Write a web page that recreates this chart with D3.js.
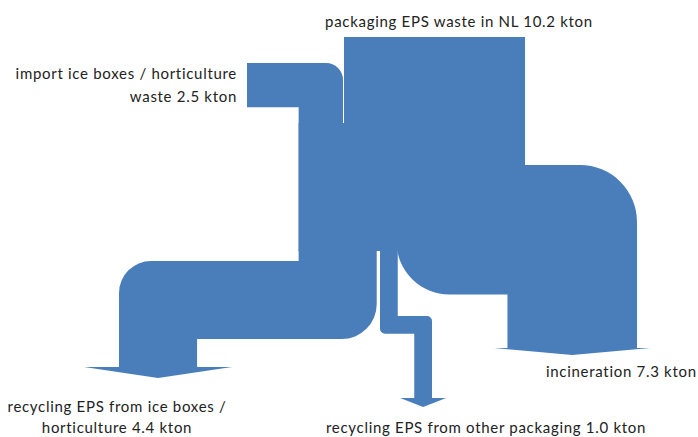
<!DOCTYPE html>
<html>
<head>
<meta charset="utf-8">
<script src="https://cdn.jsdelivr.net/npm/d3@7"></script>
<style>
  html, body { margin: 0; padding: 0; background: #ffffff; }
  svg { display: block; }
  text { font-family: Lato, "Open Sans", sans-serif; font-size: 15px; letter-spacing: 0.7px; fill: #222; }
</style>
</head>
<body>
<svg id="chart" width="698" height="437"></svg>
<script>
// ---- data (kton) ----
const inflowNames = ["packaging EPS waste in NL", "import ice boxes / horticulture waste"];
const inflowValues = [10.2, 2.5];
const outflowNames = ["recycling EPS from ice boxes / horticulture", "recycling EPS from other packaging", "incineration"];
const outflowValues = [4.4, 1.0, 7.3];
const unit = "kton";

const svg = d3.select("#chart");
const color = "#4a7ebb";

// width scale: kton -> px
const w = d3.scaleLinear().domain([0, inflowValues[0]]).range([0, 181]);

const fmt = d3.format(".1f");

// ---- layout anchors ----
const mainX = 344, mainTop = 37, splitY = 251;
const mainW = w(inflowValues[0]);
const impW = w(inflowValues[1]);
const impX = mainX - 1 - impW;       // vertical import band left
const mergeY = 123;

const g = svg.append("g").attr("fill", color);

// main packaging inflow
g.append("rect").attr("x", mainX).attr("y", mainTop).attr("width", mainW).attr("height", splitY - mainTop);

// import inflow
{
  const p = d3.path();
  const top = 63, left = 247, r = 17;
  const right = mainX - 1;
  p.moveTo(left, top);
  p.lineTo(right - r, top);
  p.arcTo(right, top, right, top + r, r);
  p.lineTo(right, splitY);
  p.lineTo(impX, splitY);
  p.lineTo(impX, top + impW);
  p.lineTo(left, top + impW);
  p.closePath();
  g.append("path").attr("d", p.toString());
}
// merged body
g.append("rect").attr("x", impX).attr("y", mergeY).attr("width", mainX + mainW - impX).attr("height", splitY - mergeY);

// outflow 1: recycling ice boxes (left)
{
  const bw = w(outflowValues[0]);
  const x0 = impX, x1 = impX + bw;       // vertical part
  const hTop = 261, hBot = hTop + bw;    // horizontal band
  const vL = 119, vR = vL + bw;          // downward band
  const base = 367, tip = 378, wing = 74;
  const cx = (vL + vR) / 2;
  const p = d3.path();
  p.moveTo(x1, splitY - 1);
  p.lineTo(x1, hBot - 35);
  p.arcTo(x1, hBot, x1 - 35, hBot, 35);
  p.lineTo(vR, hBot);
  p.lineTo(vR, base);
  p.lineTo(cx + wing, base);
  p.lineTo(cx, tip);
  p.lineTo(cx - wing, base);
  p.lineTo(vL, base);
  p.lineTo(vL, hTop + 32);
  p.arcTo(vL, hTop, vL + 32, hTop, 32);
  p.lineTo(x0, hTop);
  p.lineTo(x0, splitY - 1);
  p.closePath();
  g.append("path").attr("d", p.toString());
}

// outflow 2: recycling other packaging (middle)
{
  const bw = w(outflowValues[1]);
  const x0 = 380, x1 = x0 + bw;
  const hTop = 316, hBot = hTop + bw;
  const vR = 432, vL = vR - bw;
  const base = 398, tip = 407, wing = 23;
  const cx = (vL + vR) / 2;
  const r = 5;
  const p = d3.path();
  p.moveTo(x0, splitY - 1);
  p.lineTo(x0, hBot - r);
  p.arcTo(x0, hBot, x0 + r, hBot, r);
  p.lineTo(vL, hBot);
  p.lineTo(vL, base);
  p.lineTo(cx - wing, base);
  p.lineTo(cx, tip);
  p.lineTo(cx + wing, base);
  p.lineTo(vR, base);
  p.lineTo(vR, hTop + r);
  p.arcTo(vR, hTop, vR - r, hTop, r);
  p.lineTo(x1, hTop);
  p.lineTo(x1, splitY - 1);
  p.closePath();
  g.append("path").attr("d", p.toString());
}

// outflow 3: incineration (right)
{
  const bw = w(outflowValues[2]);
  const right = mainX + mainW;           // 525
  const x0 = right - bw;                 // left edge inside stream
  const hTop = 165, hBot = hTop + bw;
  const vR = 637, vL = vR - bw;
  const base = 348, tip = 355, wing = 78;
  const cx = (vL + vR) / 2;
  const r1 = 53, r2 = 57;
  const p = d3.path();
  p.moveTo(x0 + 1, hBot - r1);
  p.arcTo(x0 + 1, hBot, x0 + 1 + r1, hBot, r1);
  p.lineTo(vL, hBot);
  p.lineTo(vL, base);
  p.lineTo(cx - wing, base);
  p.lineTo(cx, tip);
  p.lineTo(cx + wing, base);
  p.lineTo(vR, base);
  p.lineTo(vR, hTop + r2);
  p.arcTo(vR, hTop, vR - r2, hTop, r2);
  p.lineTo(right, hTop);
  p.lineTo(right, hBot - r1);
  p.closePath();
  g.append("path").attr("d", p.toString());
}

// ---- labels ----
const labels = svg.append("g");
labels.append("text").attr("x", 459).attr("y", 27).attr("text-anchor", "middle")
  .text(`${inflowNames[0]} ${fmt(inflowValues[0])} ${unit}`);
labels.append("text").attr("x", 237).attr("y", 79).attr("text-anchor", "end")
  .text("import ice boxes / horticulture");
labels.append("text").attr("x", 237).attr("y", 102).attr("text-anchor", "end")
  .text(`waste ${fmt(inflowValues[1])} ${unit}`);
labels.append("text").attr("x", 117).attr("y", 412).attr("text-anchor", "middle")
  .text("recycling EPS from ice boxes /");
labels.append("text").attr("x", 117).attr("y", 433).attr("text-anchor", "middle")
  .text(`horticulture ${fmt(outflowValues[0])} ${unit}`);
labels.append("text").attr("x", 486).attr("y", 433).attr("text-anchor", "middle")
  .text(`${outflowNames[1]} ${fmt(outflowValues[1])} ${unit}`);
labels.append("text").attr("x", 546).attr("y", 377)
  .text(`${outflowNames[2]} ${fmt(outflowValues[2])} ${unit}`);
</script>
</body>
</html>
